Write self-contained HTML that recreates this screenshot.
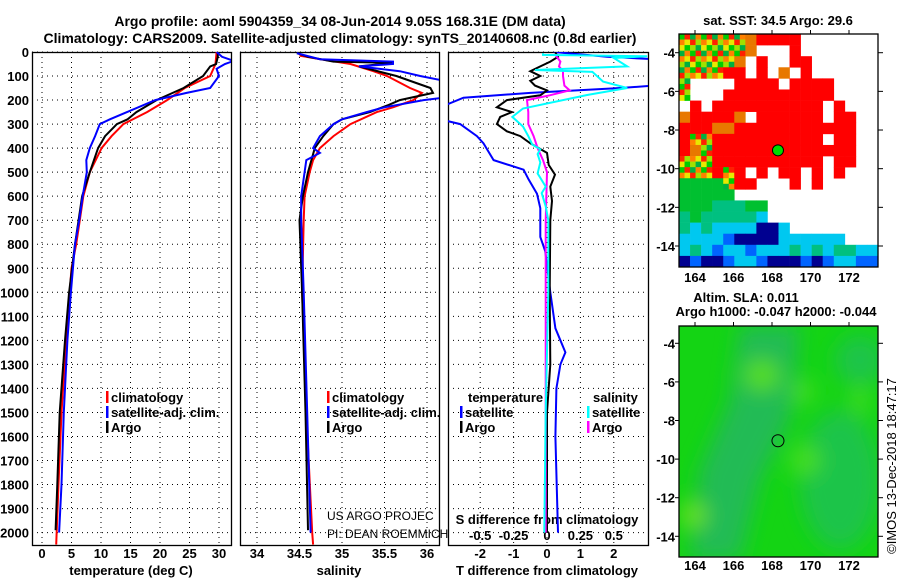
<!DOCTYPE html>
<html><head><meta charset="utf-8">
<style>
html,body{margin:0;padding:0;background:#fff;}
svg{display:block;}
text{font-family:"Liberation Sans",Arial,sans-serif;}
.b{font-weight:bold;font-size:13px;}
.t{font-weight:bold;font-size:14px;}
.thin{font-size:12px;}
</style></head>
<body>
<svg id="chart" width="900" height="580" viewBox="0 0 900 580" xmlns="http://www.w3.org/2000/svg">
<text class="t" x="340" y="26" text-anchor="middle">Argo profile: aoml 5904359_34 08-Jun-2014 9.05S 168.31E (DM data)</text>
<text class="t" x="340" y="43" text-anchor="middle">Climatology: CARS2009. Satellite-adjusted climatology: synTS_20140608.nc (0.8d earlier)</text>
<g id="g"></g>
</svg>
<script>
// ---------- data ----------
const depthTicks = [0,100,200,300,400,500,600,700,800,900,1000,1100,1200,1300,1400,1500,1600,1700,1800,1900,2000];
const tempTicks = [0,5,10,15,20,25,30];
const salTicks = [34,34.5,35,35.5,36];
const salTickLabels = ["34","34.5","35","35.5","36"];
const tdiffTicks = [-2,-1,0,1,2];
const sdiffTicks = [-0.5,-0.25,0,0.25,0.5];
const sdiffTickLabels = ["-0.5","-0.25","0","0.25","0.5"];

const climTDepth = [0,50,100,150,200,250,300,350,400,500,600,700,800,900,1000,1200,1500,1800,2050];
const climTVal   = [29.6,29.4,28.5,24.2,21.2,17.8,13.8,11.8,10.1,8.1,7.0,6.4,5.8,5.0,4.7,4.1,3.3,2.8,2.4];
const argoTDepth = [0,20,50,60,100,150,200,250,280,300,350,400,500,600,700,800,1000,1200,1500,1800,1990];
const argoTVal   = [29.8,29.8,29.5,28.5,27.3,24,19.4,16,14.5,12.7,10.7,9.5,8.1,6.8,6.2,5.6,4.6,3.9,3.0,2.6,2.3];
const satTDepth  = [0,20,37,50,70,100,150,170,200,250,280,300,350,400,450,500,600,700,800,1000,1200,1500,1800,2000];
const satTVal    = [29.6,30.5,32.5,31,29.6,30,28.5,24.5,19.2,14.4,11.5,9.8,9.0,8.1,7.5,7.6,6.9,6.3,5.6,4.9,4.3,3.7,3.3,2.9];

const climSDepth = [15,30,50,80,100,150,170,200,230,250,300,350,400,450,500,600,700,1000,1500,2000,2050];
const climSVal   = [34.5,34.74,35.1,35.37,35.53,35.8,35.94,35.84,35.6,35.41,35.1,34.9,34.74,34.66,34.62,34.56,34.55,34.53,34.58,34.65,34.66];
const argoSDepth = [5,20,40,45,60,100,150,170,200,220,250,280,300,350,400,450,500,600,700,1000,1500,1990];
const argoSVal   = [34.47,34.6,34.9,35.6,35.2,35.64,36.04,36.07,35.68,35.55,35.33,35.0,34.9,34.78,34.68,34.64,34.6,34.54,34.5,34.53,34.57,34.6];
const satSDepth  = [5,30,40,50,60,80,100,120,190,200,230,250,280,300,350,400,420,450,600,700,1000,1500,2000];
const satSVal    = [34.47,34.74,35.6,35.6,35.2,35.68,35.92,36.2,36.2,35.96,35.5,35.29,35.0,34.9,34.74,34.66,34.74,34.58,34.52,34.52,34.55,34.59,34.63];

const satTdDepth = [0,20,30,140,150,170,190,230,280,300,350,380,450,490,530,590,650,770,830,1000,1150,1250,1300,1400,1600,2000];
const satTdVal   = [0.2,1.8,3.2,3.2,2.2,-0.5,-2.5,-3.2,-3.2,-2.6,-2.1,-1.9,-1.6,-0.7,-0.55,-0.3,-0.2,-0.2,-0.05,0.1,0.25,0.55,0.4,0.28,0.25,0.33];
const argoTdDepth = [0,20,40,60,80,100,120,140,160,180,200,230,250,270,300,330,350,380,420,470,510,560,620,700,1000,1300,1500,2000];
const argoTdVal   = [0.24,0.33,0.1,-0.2,-0.5,-0.2,-0.5,-0.36,0,-0.2,-1.2,-1.5,-1.05,-1.4,-1.5,-1.2,-0.8,-0.5,0,0.05,0.24,0.1,0.15,0.1,0.08,0.1,0,0];
const argoSdDepth = [10,40,60,80,100,140,160,180,200,250,300,350,400,450,500,700,1000,1500,2000];
const argoSdVal   = [0.06,0.1,0.09,0.12,0.12,0.13,0.17,0.02,-0.15,-0.14,-0.14,-0.1,-0.07,-0.03,0,-0.01,-0.01,-0.01,-0.01];
const satSdDepth = [5,12,18,25,60,75,83,123,150,179,235,270,310,350,385,405,425,460,505,560,587,642,700,1000,1500,2000];
const satSdVal   = [-0.03,-0.03,0.75,0.5,0.6,-0.09,0.34,0.42,0.6,0.3,-0.18,-0.26,-0.18,-0.14,-0.11,-0.05,-0.07,-0.05,-0.07,-0.01,-0.04,-0.01,0.01,0.01,-0.01,-0.02];

const latTicks = [-4,-6,-8,-10,-12,-14];
const lonTicks = [164,166,168,170,172];
const argoLon = 168.31, argoLat = -9.05;

// ---------- helpers ----------
const NS="http://www.w3.org/2000/svg";
const G=document.getElementById('g');
function mk(tag,attrs,parent){const e=document.createElementNS(NS,tag);for(const k in attrs)e.setAttribute(k,attrs[k]);(parent||G).appendChild(e);return e;}
const Y0=52, PY=0.2403, PBOT=545;
function yD(d){return Y0+d*PY;}
const panels=[
  {name:'temperature',x0:32,x1:231,sx:v=>42+5.9*v},
  {name:'salinity',x0:240,x1:439,sx:v=>257+(v-34)*85},
  {name:'difference',x0:448,x1:648,sx:v=>547+33.4*v}
];
const sdx=v=>547+133.6*v;
panels.forEach((p,i)=>{
  const cp=mk('clipPath',{id:'cp'+i});
  mk('rect',{x:p.x0,y:Y0,width:p.x1-p.x0,height:PBOT-Y0},cp);
});
function line(depths,vals,sx,color,clip,name){
  const pts=depths.map((d,i)=>sx(vals[i]).toFixed(1)+','+yD(d).toFixed(1)).join(' ');
  const e=mk('polyline',{points:pts,fill:'none',stroke:color,'stroke-width':2,'clip-path':'url(#cp'+clip+')'});
  
  
}
function txt(x,y,s,cls,anchor,name,color){
  const e=mk('text',{x:x,y:y,class:cls,'text-anchor':anchor||'start',fill:color||'#000'});
  e.textContent=s;
  
  
  return e;
}
// grid + frames
panels.forEach((p,i)=>{
  depthTicks.forEach(d=>{
    const gl=mk('line',{x1:p.x0,x2:p.x1,y1:yD(d),y2:yD(d),stroke:'#000','stroke-width':1,'stroke-dasharray':'1,4'});
    
    
  });
  const xt = i==0?tempTicks:(i==1?salTicks:tdiffTicks);
  xt.forEach(v=>{
    const gl=mk('line',{x1:p.sx(v),x2:p.sx(v),y1:Y0,y2:PBOT,stroke:'#000','stroke-width':1,'stroke-dasharray':'1,4'});
    
    
  });
  const fr=mk('rect',{x:p.x0+0.5,y:Y0+0.5,width:p.x1-p.x0,height:PBOT-Y0,fill:'none',stroke:'#000','stroke-width':1.3});
  
  
});
// depth labels
depthTicks.forEach(d=>{txt(29,yD(d)+5,String(d),'b','end','depth-tick-label');});
tempTicks.forEach(v=>{txt(panels[0].sx(v),558,String(v),'b','middle','temperature-tick-label');});
salTicks.forEach((v,i)=>{txt(panels[1].sx(v),558,salTickLabels[i],'b','middle','salinity-tick-label');});
tdiffTicks.forEach(v=>{txt(panels[2].sx(v),558,String(v),'b','middle','t-diff-tick-label');});
sdiffTicks.forEach((v,i)=>{txt(sdx(v),540,sdiffTickLabels[i],'b','middle','s-diff-tick-label');});
txt(131,575,'temperature (deg C)','b','middle','temperature-axis-title');
txt(339,575,'salinity','b','middle','salinity-axis-title');
txt(547,575,'T difference from climatology','b','middle','t-diff-axis-title');
txt(547,524,'S difference from climatology','b','middle','s-diff-axis-title');
txt(327,520,'US ARGO PROJEC','thin','start','project-label');
txt(327,538,'PI: DEAN ROEMMICH','thin','start','pi-label');

// series
line(climTDepth,climTVal,panels[0].sx,'#ff0000',0,'temperature-climatology-line');
line(argoTDepth,argoTVal,panels[0].sx,'#000000',0,'temperature-argo-line');
line(satTDepth,satTVal,panels[0].sx,'#0000ff',0,'temperature-satellite-line');
line(climSDepth,climSVal,panels[1].sx,'#ff0000',1,'salinity-climatology-line');
line(argoSDepth,argoSVal,panels[1].sx,'#000000',1,'salinity-argo-line');
line(satSDepth,satSVal,panels[1].sx,'#0000ff',1,'salinity-satellite-line');
line(satTdDepth,satTdVal,panels[2].sx,'#0000ff',2,'t-diff-satellite-line');
line(argoTdDepth,argoTdVal,panels[2].sx,'#000000',2,'t-diff-argo-line');
line(argoSdDepth,argoSdVal,sdx,'#ff00ff',2,'s-diff-argo-line');
line(satSdDepth,satSdVal,sdx,'#00ffff',2,'s-diff-satellite-line');

// legends
function leg(x,y,color,label,name){
  const r=mk('rect',{x:x,y:y-11,width:2.5,height:12,fill:color});
  
  
  txt(x+5,y,label,'b','start',name);
}
leg(106,402,'#ff0000','climatology','legend-temp-climatology');
leg(106,417,'#0000ff','satellite-adj. clim.','legend-temp-satellite');
leg(106,432,'#000000','Argo','legend-temp-argo');
leg(327,402,'#ff0000','climatology','legend-sal-climatology');
leg(327,417,'#0000ff','satellite-adj. clim.','legend-sal-satellite');
leg(327,432,'#000000','Argo','legend-sal-argo');
txt(468,402,'temperature','b','start','legend-temperature-heading');
txt(593,402,'salinity','b','start','legend-salinity-heading');
leg(460,417,'#0000ff','satellite','legend-tdiff-satellite');
leg(460,432,'#000000','Argo','legend-tdiff-argo');
leg(587,417,'#00ffff','satellite','legend-sdiff-satellite');
leg(587,432,'#ff00ff','Argo','legend-sdiff-argo');

// ---------- maps ----------
const M1={x0:679,x1:878,y0:34,y1:267,top:33.5};
const M2={x0:679,x1:878,y0:326,y1:557};
const lonX=lon=>695+(lon-164)*19.25;
const latY1=lat=>52.7+(-4-lat)*19.33;
const latY2=lat=>343.3+(-4-lat)*19.3;
const sstMap=[
"MMMMMMORRRRWWWWWWW",
"MMMMMMOWWWRWWWWWWW",
"MMMMMOWRWWRRWWWWWW",
"MMMMRRWRWOWRWWWWWW",
"MWWWWRRRRWRRRRWWWW",
"MWWWRRRRRRRRRRWWWW",
"WRWRRRRRRRRRRWRWWW",
"ORRRROWRRRRRRWRRWW",
"RRROORRRRRRRRRRRWW",
"RMMRRRRRRRRRRWRRWW",
"ROMRRRRRRRRRRRRRWW",
"MMMRRRRRRRRRRWRRWW",
"MMMRMRWRWRRWRWRWWW",
"GGGGMRRWWWRWRWWWWW",
"GGGGGWWWWWWWWWWWWW",
"GGGTTTGGWWWWWWWWWW",
"TGTTTTTCWWWWWWWWWW",
"TCTCCCCNNCWWWWWWWW",
"CCCCBNNNNCCCCCCWWW",
"CTCBCCBCCCTCTCTTCC",
"NBNNBCCBNNNBNBCCBB"];
const pal={R:'#ff0000',O:'#e87800',G:'#00c030',T:'#00c080',C:'#00c8f0',B:'#0064ff',N:'#000090',W:'#ffffff'};
const mixPal=['#00cc00','#e8e800','#ff8000','#00b040','#a0e000','#ff2000'];
const mg=mk('g',{});


const cw=(M1.x1-M1.x0)/18, ch=(M1.y1-M1.y0)/21;
sstMap.forEach((row,r)=>{
  for(let c=0;c<18;c++){
    const k=row[c];
    if(k==='W')continue;
    if(k==='M'){
      for(let a=0;a<2;a++)for(let b=0;b<2;b++){
        mk('rect',{x:M1.x0+c*cw+a*cw/2,y:M1.y0+r*ch+b*ch/2,width:cw/2+0.3,height:ch/2+0.3,fill:mixPal[(r*7+c*3+a*5+b*2)%6]},mg);
      }
    } else mk('rect',{x:M1.x0+c*cw,y:M1.y0+r*ch,width:cw+0.3,height:ch+0.3,fill:pal[k]},mg);
  }
});
const ac=mk('circle',{cx:lonX(argoLon),cy:latY1(argoLat),r:5.5,fill:'#00dd00',stroke:'#000','stroke-width':1});



// SLA map
const defs=mk('defs',{});
const f=mk('filter',{id:'blur',x:'-50%',y:'-50%',width:'200%',height:'200%'},defs);
mk('feGaussianBlur',{stdDeviation:10},f);
const cp3=mk('clipPath',{id:'cpm2'},defs);
mk('rect',{x:M2.x0,y:M2.y0,width:M2.x1-M2.x0,height:M2.y1-M2.y0},cp3);
const sg=mk('g',{'clip-path':'url(#cpm2)'});


mk('rect',{x:M2.x0,y:M2.y0,width:M2.x1-M2.x0,height:M2.y1-M2.y0,fill:'#14d414'},sg);
const bg=mk('g',{filter:'url(#blur)'},sg);
mk('path',{d:'M740 326 L800 326 L790 420 L760 480 L740 560 L690 560 L700 470 L730 400 Z',fill:'#22bb55'},bg);
mk('ellipse',{cx:840,cy:480,rx:40,ry:70,fill:'#1cc448'},bg);
mk('ellipse',{cx:860,cy:360,rx:25,ry:25,fill:'#1cc448'},bg);
mk('ellipse',{cx:762,cy:375,rx:18,ry:16,fill:'#55dd22'},bg);
mk('ellipse',{cx:803,cy:392,rx:12,ry:12,fill:'#44dd22'},bg);
mk('ellipse',{cx:805,cy:460,rx:16,ry:16,fill:'#44dd22'},bg);
mk('ellipse',{cx:693,cy:515,rx:14,ry:14,fill:'#66e022'},bg);
mk('ellipse',{cx:860,cy:400,rx:8,ry:16,fill:'#44dd22'},bg);
const ac2=mk('circle',{cx:lonX(argoLon),cy:latY2(argoLat),r:6,fill:'none',stroke:'#000','stroke-width':1});



// map frames and ticks
[[M1,latY1,282,'sst'],[M2,latY2,570,'sla']].forEach(([m,ly,lyy,n])=>{
  const fr=mk('rect',{x:m.x0,y:m.y0,width:m.x1-m.x0,height:m.y1-m.y0,fill:'none',stroke:'#000','stroke-width':1.3});
  
  
  latTicks.forEach(l=>{
    txt(675,ly(l)+5,String(l),'b','end',n+'-lat-label');
    mk('line',{x1:m.x1,x2:m.x1+5,y1:ly(l),y2:ly(l),stroke:'#000'});
    mk('line',{x1:m.x0-4,x2:m.x0,y1:ly(l),y2:ly(l),stroke:'#000'});
  });
  lonTicks.forEach(l=>{
    txt(lonX(l),lyy,String(l),'b','middle',n+'-lon-label');
    mk('line',{x1:lonX(l),x2:lonX(l),y1:m.y0-4,y2:m.y0,stroke:'#000'});
  });
});
txt(778,25,'sat. SST: 34.5 Argo: 29.6','b','middle','sst-map-title');
txt(746,302,'Altim. SLA: 0.011','b','middle','sla-map-title');
txt(776,316,'Argo h1000: -0.047 h2000: -0.044','b','middle','sla-map-subtitle');
const cr=txt(0,0,'©IMOS 13-Dec-2018 18:47:17','thin','middle','copyright-timestamp');
cr.setAttribute('transform','translate(896,466) rotate(-90)');
cr.setAttribute('style','font-size:13px');
</script>
</body></html>
